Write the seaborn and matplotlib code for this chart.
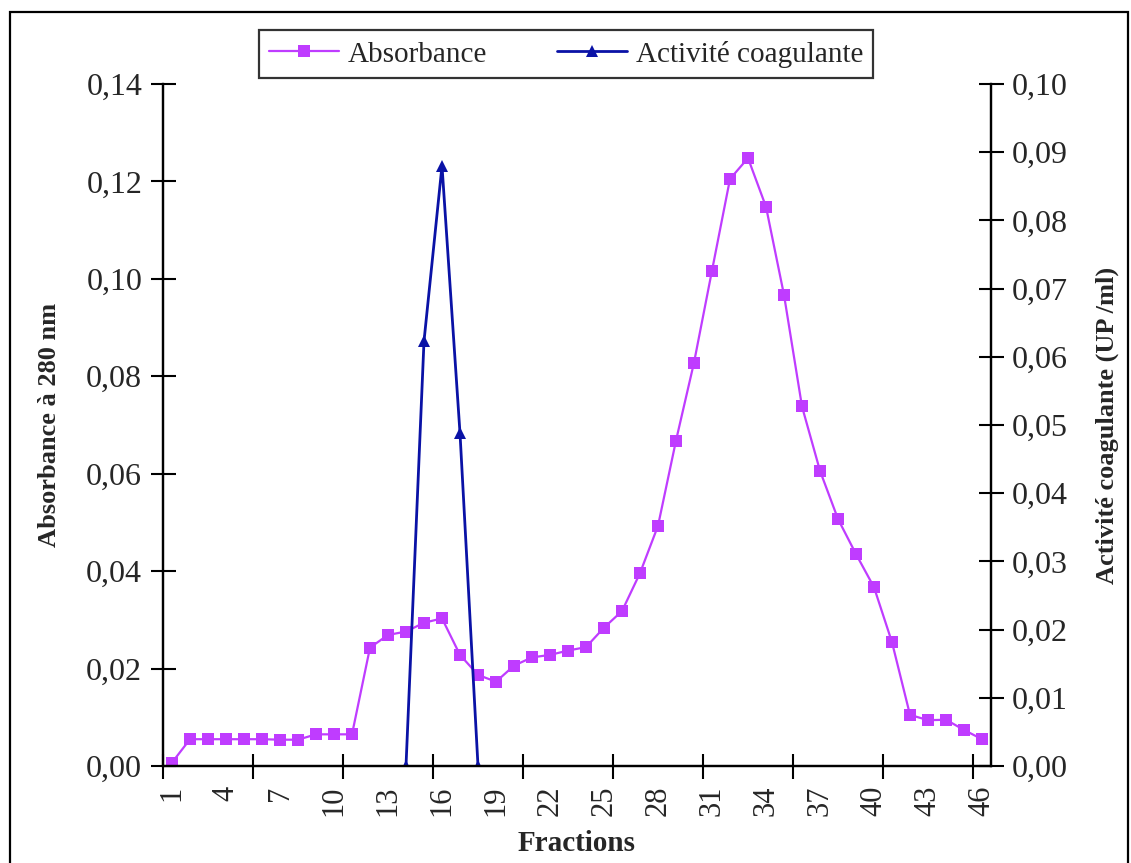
import numpy as np
import pandas as pd
import matplotlib
matplotlib.use("Agg")
import matplotlib.pyplot as plt
from matplotlib.patches import Rectangle
from matplotlib.ticker import FixedLocator, FuncFormatter
import seaborn as sns

# Fraction numbers collected from the column
fractions = list(range(1, 47))

# Absorbance at 280 nm for each fraction (left axis)
absorbance = [
    0.0007, 0.0055, 0.0055, 0.0055, 0.0055, 0.0055, 0.0054, 0.0054, 0.0065, 0.0065,
    0.0065, 0.0243, 0.0269, 0.0276, 0.0294, 0.0303, 0.0228, 0.0187, 0.0173, 0.0206,
    0.0223, 0.0228, 0.0237, 0.0244, 0.0284, 0.0318, 0.0396, 0.0493, 0.0668, 0.0828,
    0.1017, 0.1205, 0.1248, 0.1148, 0.0967, 0.0738, 0.0606, 0.0507, 0.0435, 0.0367,
    0.0254, 0.0105, 0.0094, 0.0095, 0.0074, 0.0055,
]

# Coagulant activity (UP/ml), measured only on fractions 14-18 (right axis)
activity_fractions = [14, 15, 16, 17, 18]
activity = [0.0, 0.0623, 0.0880, 0.0488, 0.0]

left_ticks = [0.00, 0.02, 0.04, 0.06, 0.08, 0.10, 0.12, 0.14]
right_ticks = [0.00, 0.01, 0.02, 0.03, 0.04, 0.05, 0.06, 0.07, 0.08, 0.09, 0.10]
label_step = 3
tickmark_step = 5

purple = "#BF3CFF"
navy = "#0A12A6"

sns.set_theme(style="white")
plt.rcParams["font.family"] = ["Liberation Serif", "DejaVu Serif"]

df_abs = pd.DataFrame({"pos": np.arange(len(fractions)), "value": absorbance})
df_act = pd.DataFrame({
    "pos": [fractions.index(f) for f in activity_fractions],
    "value": activity,
})

fig = plt.figure(figsize=(11.31, 8.63), dpi=100)
ax = fig.add_axes([163 / 1131, 1 - 766 / 863, (991 - 163) / 1131, (766 - 84) / 863])
ax2 = ax.twinx()

sns.lineplot(data=df_abs, x="pos", y="value", ax=ax, color=purple, marker="s",
             markersize=8.8, markeredgewidth=0, linewidth=1.6, estimator=None,
             label="Absorbance", legend=False)
sns.lineplot(data=df_act, x="pos", y="value", ax=ax2, color=navy, marker="^",
             markersize=8.5, markeredgewidth=0, linewidth=2.0, estimator=None,
             label="Activité coagulante", legend=False)

n = len(fractions)
ax.set_xlim(-0.5, n - 0.5)
ax.set_ylim(left_ticks[0], left_ticks[-1])
ax2.set_ylim(right_ticks[0], right_ticks[-1])

comma = FuncFormatter(lambda v, p: f"{v:.2f}".replace(".", ","))
ax.yaxis.set_major_locator(FixedLocator(left_ticks))
ax.yaxis.set_major_formatter(comma)
ax2.yaxis.set_major_locator(FixedLocator(right_ticks))
ax2.yaxis.set_major_formatter(comma)

label_pos = list(range(0, n, label_step))
ax.set_xticks(label_pos)
ax.set_xticklabels([str(fractions[i]) for i in label_pos], rotation=90, va="top")
ax.set_xticks(np.arange(-0.5, n, tickmark_step), minor=True)
ax.tick_params(axis="x", which="major", length=0, pad=14, labelsize=22)
ax.tick_params(axis="x", which="minor", direction="inout", length=18, width=1.5,
               color="black", bottom=True)
ax.tick_params(axis="y", which="major", direction="inout", length=18, width=1.5,
               color="black", left=True, pad=6, labelsize=23)
ax2.tick_params(axis="y", which="major", direction="inout", length=18, width=1.5,
                color="black", right=True, pad=6, labelsize=23)

for a in (ax, ax2):
    a.spines["top"].set_visible(False)
    for s in ("left", "bottom", "right"):
        a.spines[s].set_color("black")
        a.spines[s].set_linewidth(1.6)
    a.grid(False)
    a.set_facecolor("none")

ax.set_xlabel("Fractions", fontsize=21, fontweight="bold", labelpad=10)
ax.set_ylabel("Absorbance à 280 nm", fontsize=19, fontweight="bold", labelpad=18)
ax2.set_ylabel("Activité coagulante (UP /ml)", fontsize=19, fontweight="bold",
               labelpad=20)

h1, l1 = ax.get_legend_handles_labels()
h2, l2 = ax2.get_legend_handles_labels()
leg = fig.legend(h1 + h2, l1 + l2, loc="center", bbox_to_anchor=(566 / 1131, 1 - 54 / 863),
                 ncol=2, frameon=True, fancybox=False, edgecolor="black", fontsize=21,
                 handlelength=2.4, handletextpad=0.3, columnspacing=2.4,
                 borderpad=0.35)
leg.get_frame().set_linewidth(1.6)

fig.patches.append(Rectangle((10 / 1131, -0.05), (1128 - 10) / 1131, 1 - 12 / 863 + 0.05,
                             transform=fig.transFigure, fill=False, edgecolor="black",
                             linewidth=1.6))

fig.savefig("out.png", dpi=100, facecolor="white")
